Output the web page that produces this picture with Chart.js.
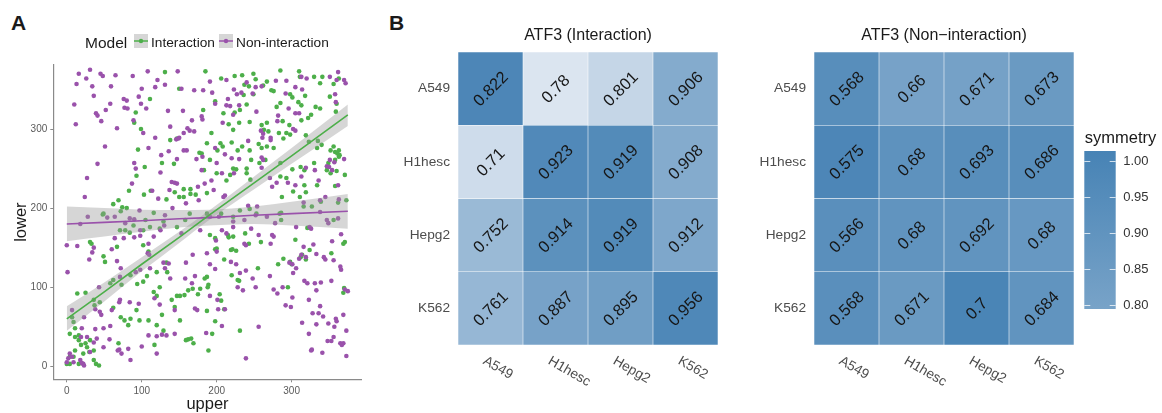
<!DOCTYPE html>
<html>
<head>
<meta charset="utf-8">
<script src="https://cdn.jsdelivr.net/npm/chart.js@4/dist/chart.umd.min.js"></script>
<style>
  html, body { margin: 0; padding: 0; background: #fff; }
  body { width: 1162px; height: 413px; position: relative; overflow: hidden; font-family: "Liberation Sans", Arial, sans-serif; }
  canvas { position: absolute; top: 0; }
  .tag { position: absolute; font-weight: bold; font-size: 21px; line-height: 21px; color: #1a1a1a; }
</style>
</head>
<body>
<div class="tag" style="left:11px; top:12px;">A</div>
<div class="tag" style="left:389px; top:12px;">B</div>
<canvas id="scatter" width="390" height="413" style="left:0;"></canvas>
<canvas id="heatInt" width="350" height="413" style="left:390px;"></canvas>
<canvas id="heatNon" width="422" height="413" style="left:740px;"></canvas>
<script>
// ---------- Panel A: upper vs lower positions ----------
const interactionPoints = [
  [131,372],[185,373],[150,351],[206,364],[224,367],[234,368],[249,370],[252,363],[267,360],[285,374],[310,373],[330,366],[273,349],[276,348],[356,357],[351,341],[198,335],
  [311,366],[341,366],[338,358],[262,355],[237,356],[243,354],[236,343],[249,344],[240,331],[231,324],[224,321],[182,324],[209,320],[298,344],[301,340],[309,334],[313,330],[318,342],[363,364],[360,332],[359,322],[332,328],[338,326],[285,333],[280,328],[288,310],[297,305],[313,311],[326,318],[322,314],[293,295],[283,295],[260,305],[263,299],[269,297],[267,308],[244,309],[230,308],[222,299],[216,306],[193,295],[187,282],[205,282],[208,278],[220,283],[228,273],[234,278],[244,273],[256,281],[260,276],[267,278],[276,276],[289,288],[298,293],[319,292],[323,284],[335,285],[334,276],[340,280],[356,278],[352,273],[358,271],[363,273],[361,269],[364,267],[363,265],[358,261],[349,257],[347,248],[352,244],[330,257],[317,248],[312,252],[301,249],[285,257],[265,261],[257,257],[246,261],[240,250],[240,244],[245,236],[226,249],[222,250],[218,242],[213,235],[200,244],[201,273],[191,261],[180,269],[183,248],[187,219],[285,240],[293,238],[317,229],[334,229],[358,228],[360,247],[371,242],[319,220],[302,221],[287,214],[311,214],[327,202],[362,207],[222,189],[286,194],
  [111,338],[92,321],[99,300],[90,308],[138,286],[147,288],[95,274],[104,252],[127,257],[143,256],[177,270],[93,241],[83,222],[103,217],[112,222],[133,211],[144,220],[150,214],[156,224],[156,214],[165,224],[165,218],[172,217],[62,205],[69,210],[74,201],[80,200],[48,192],[116,194],
  [49,193],[72,196],[78,172],[84,169],[102,172],[105,185],[129,183],[147,176],[158,185],[164,193],[187,193],[206,193],[231,197],[244,199],[253,193],[284,193],[286,185],[316,202],[339,208],[356,185],[373,210],
  [31,157],[33,155],[71,172],[124,174],[111,176],[89,178],[67,151],[102,153],[109,145],[133,131],[134,119],[120,119],[124,100],[116,94],[120,89],[102,107],[107,114],[85,115],[94,104],[73,103],[62,109],[58,105],[49,139],[51,132],[25,93],[14,92],[44,81],[37,77],[36,84],[62,74],[72,62],[77,58],[85,60],[82,52],[93,71],[97,58],[109,58],[120,52],[127,65],[129,45],[140,84],[147,89],[151,89],[144,75],[151,58],[157,90],[162,96],[168,98],[175,91],[159,33],[162,34],[166,35],[169,29],[7,62],[9,56],[11,48],[4,41],[11,37],[16,39],[16,33],[19,27],[25,29],[27,24],[31,33],[30,18],[36,20],[22,16],[11,20],[9,12],[4,12],[4,3],[0,3],[16,3],[36,8],[39,3],[43,1],[69,29],[117,27],
  [191,166],[198,162],[198,148],[200,149],[215,166],[216,163],[222,164],[238,168],[243,155],[259,157],[219,147],[221,148],[226,146],[210,135],[187,113],[184,111],[189,103],[188,100],[178,98],[204,91],[206,83],[210,72],[187,70],[198,57],[194,41],[189,20],[220,115],[228,109],[230,108],[255,124],[231,45],[282,129],[289,136],[298,132],[300,129],[305,160],[314,141],[312,138],[319,135],[324,147],[353,143],[371,157],[295,100],[370,99],[369,93],[321,175],[369,155]
];

const nonInteractionPoints = [
  [16,370],[31,375],[45,370],[48,367],[65,368],[88,367],[108,373],[13,357],[26,364],[34,354],[59,354],[100,351],[121,362],[118,353],[131,356],[148,373],[10,331],[36,342],[58,332],[76,338],[80,336],[77,327],[81,326],[96,341],[99,332],[106,326],[39,320],[41,317],[46,310],[52,324],[12,306],[67,301],[89,311],[102,295],[109,276],[118,289],[135,323],[138,303],[155,323],[167,311],[170,349],[153,351],[161,301],[164,298],[170,297],[156,295],[149,288],[146,287],[150,289],[51,278],[126,267],[136,272],[147,262],[156,273],[160,273],[173,262],[41,256],[27,238],[90,257],[92,250],[87,231],[125,245],[140,233],[144,232],[147,231],[137,223],[114,222],[122,212],[131,191],[141,200],[159,206],[175,227],[24,214],[28,189],[54,188],[64,189],[97,197],[176,210],
  [191,360],[194,346],[223,350],[227,344],[233,346],[215,338],[213,330],[218,329],[198,332],[180,316],[181,312],[208,308],[222,318],[253,322],[259,298],[262,294],[272,289],[272,286],[242,285],[261,289],[282,317],[281,310],[302,300],[305,298],[310,320],[296,326],[305,320],[358,344],[359,334],[360,362],[372,358],[370,362],[362,372],[213,362],[230,330],[181,265],[198,276],[211,268],[220,263],[230,262],[223,244],[200,257],[207,244],[193,235],[180,248],[184,231],[196,223],[211,216],[209,214],[260,264],[262,261],[260,251],[280,232],[271,238],[274,227],[305,229],[313,240],[319,251],[331,248],[336,235],[347,253],[350,252],[351,261],[357,258],[354,248],[362,229],[370,262],[295,232],[316,207],[338,210],[345,214],[242,203],[254,202],
  [240,359],[252,353],[260,354],[279,361],[293,361],[313,366],[320,364],[351,366],[305,353],[314,350],[292,345],[248,345],[182,349],
  [18,180],[84,187],[90,186],[78,181],[98,172],[98,165],[90,163],[116,164],[125,172],[130,178],[153,168],[178,172],[191,189],[203,189],[207,172],[222,183],[237,185],[252,191],[267,189],[278,181],[306,176],[326,174],[338,195],[347,185],[349,181],[362,187],[363,211],[366,167],
  [0,153],[14,152],[36,150],[34,144],[30,135],[1,119],[64,162],[76,162],[109,155],[60,148],[67,133],[72,124],[71,113],[98,122],[92,119],[108,143],[110,141],[111,124],[129,131],[136,130],[131,124],[159,131],[168,141],[158,111],[167,105],[171,114],[138,111],[43,100],[44,69],[46,65],[71,84],[70,81],[84,81],[96,79],[117,86],[124,78],[144,71],[171,73],[174,71],[7,71],[23,62],[38,72],[60,71],[20,48],[38,47],[49,48],[58,51],[19,37],[27,37],[40,35],[36,30],[57,34],[49,24],[70,21],[82,22],[100,25],[109,39],[120,38],[133,39],[144,41],[120,16],[85,8],[4,16],[7,12],[2,10],[9,5],[22,3],[18,8],[0,5],[20,4],[23,1],[31,18],[68,20],[73,16],[127,40],[186,42],[239,10],
  [187,143],[199,159],[200,145],[213,168],[222,176],[237,155],[239,153],[246,174],[256,166],[272,155],[274,166],[276,164],[219,132],[226,129],[231,118],[239,121],[248,111],[252,100],[228,100],[235,96],[191,129],[198,123],[191,89],[201,84],[202,72],[211,72],[207,51],[256,50],[271,114],[276,97],[281,92],[288,100],[297,131],[301,129],[302,118],[306,124],[310,136],[313,141],[319,138],[329,154],[324,176],[316,151],[333,142],[343,138],[345,135],[354,158],[356,134],[365,126],[366,122],[317,108],[321,105],[331,105],[339,106],[353,108],[333,96],[323,84],[338,76],[292,77],[299,75],[301,87],[314,55],[328,67],[336,67],[342,63],[333,53],[349,54],[359,60],[360,57],[369,65],[357,50],[373,45],[323,41],[348,32],[353,32],[356,37],[365,29],[369,29],[367,27],[327,21],[341,17],[373,13],[375,95],[371,97],[326,20]
];

// linear fits with their 95% bands, sampled along "upper"
const fitUpper = [0, 50, 100, 150, 190, 250, 300, 375];
const interactionFit   = [60, 94, 129, 163, 191, 232, 266, 318];
const interactionHigh  = [76, 106, 138, 170, 197, 240, 276, 331];
const interactionLow   = [45, 82, 120, 156, 185, 224, 256, 304];
const nonInteractionFit  = [180, 182, 184, 186.5, 188, 191, 193, 196];
const nonInteractionHigh = [202, 200, 198, 197.5, 198, 202, 208, 218];
const nonInteractionLow  = [158, 164, 170, 175.5, 178, 180, 178, 174];

const upperTicks = [0, 100, 200, 300];
const lowerTicks = [0, 100, 200, 300];
const modelNames = ['Interaction', 'Non-interaction'];

// ---------- Panel B: ATF3 cell-line matrices ----------
const cellLines = ['A549', 'H1hesc', 'Hepg2', 'K562'];
const interactionValues = [
  [0.822, 0.78, 0.801, 0.906],
  [0.71, 0.923, 0.919, 0.908],
  [0.752, 0.914, 0.919, 0.912],
  [0.761, 0.887, 0.895, 0.956]
];
const interactionSymmetry = [
  [0.99, 0.35, 0.45, 0.74],
  [0.41, 0.97, 0.96, 0.74],
  [0.64, 0.92, 0.96, 0.77],
  [0.66, 0.80, 0.83, 0.98]
];
const nonInteractionValues = [
  [0.568, 0.66, 0.671, 0.673],
  [0.575, 0.68, 0.693, 0.686],
  [0.566, 0.68, 0.692, 0.68],
  [0.568, 0.671, 0.7, 0.684]
];
const nonInteractionSymmetry = [
  [0.94, 0.80, 0.81, 0.86],
  [0.99, 0.91, 0.94, 0.94],
  [0.93, 0.90, 0.90, 0.87],
  [0.93, 0.86, 1.00, 0.90]
];
const symmetryTicks = [0.80, 0.85, 0.90, 0.95, 1.00];
const symmetryKeyRange = [0.7945, 1.0134];

// ---------- shared styling ----------
const FONT = '"Liberation Sans", Arial, sans-serif';
Chart.defaults.font.family = FONT;
const GREEN = '#4daf4a';
const PURPLE = '#9a52ab';
const BAND = 'rgba(153,153,153,0.4)';
const fillLow = [230, 236, 245], fillHigh = [70, 130, 180], fillDomain = [0.3, 1.02];

function fillFor(v) {
  const t = Math.max(0, Math.min(1, (v - fillDomain[0]) / (fillDomain[1] - fillDomain[0])));
  const c = fillLow.map((lo, i) => Math.round(lo + (fillHigh[i] - lo) * t));
  return `rgb(${c[0]},${c[1]},${c[2]})`;
}
const xy = pts => pts.map(([x, y]) => ({ x, y }));
const along = ys => fitUpper.map((x, i) => ({ x, y: ys[i] }));

// ---------- scatter with fits ----------
const modelKey = {
  id: 'modelKey',
  afterDraw(chart) {
    const ctx = chart.ctx;
    ctx.save();
    ctx.fillStyle = '#1a1a1a';
    ctx.textBaseline = 'alphabetic';
    ctx.font = `15.5px ${FONT}`;
    ctx.fillText('Model', 85, 47.5);
    const keys = [
      { x: 134, color: GREEN, text: modelNames[0], tx: 151 },
      { x: 219, color: PURPLE, text: modelNames[1], tx: 236 }
    ];
    keys.forEach(k => {
      ctx.fillStyle = BAND;
      ctx.fillRect(k.x, 34, 14, 14);
      ctx.strokeStyle = k.color;
      ctx.lineWidth = 1.5;
      ctx.beginPath(); ctx.moveTo(k.x, 41); ctx.lineTo(k.x + 14, 41); ctx.stroke();
      ctx.fillStyle = k.color;
      ctx.beginPath(); ctx.arc(k.x + 7, 41, 2.2, 0, Math.PI * 2); ctx.fill();
      ctx.fillStyle = '#1a1a1a';
      ctx.font = `13.7px ${FONT}`;
      ctx.fillText(k.text, k.tx, 46.5);
    });
    ctx.restore();
  }
};

const bandStyle = { type: 'line', pointRadius: 0, borderWidth: 0, backgroundColor: BAND, cubicInterpolationMode: 'monotone', order: 3 };

new Chart(document.getElementById('scatter'), {
  type: 'scatter',
  data: {
    datasets: [
      { label: modelNames[0], data: xy(interactionPoints), backgroundColor: GREEN, pointRadius: 2.3, borderWidth: 0, order: 5 },
      { label: modelNames[1], data: xy(nonInteractionPoints), backgroundColor: PURPLE, pointRadius: 2.3, borderWidth: 0, order: 4 },
      Object.assign({ data: along(interactionHigh), fill: '+1' }, bandStyle),
      Object.assign({ data: along(interactionLow), fill: false }, bandStyle),
      Object.assign({ data: along(nonInteractionHigh), fill: '+1' }, bandStyle),
      Object.assign({ data: along(nonInteractionLow), fill: false }, bandStyle),
      { type: 'line', data: along(interactionFit), borderColor: GREEN, borderWidth: 1.6, pointRadius: 0, fill: false, order: 1 },
      { type: 'line', data: along(nonInteractionFit), borderColor: PURPLE, borderWidth: 1.6, pointRadius: 0, fill: false, order: 1 }
    ]
  },
  options: {
    responsive: false,
    animation: false,
    layout: { padding: { top: 65, right: 28.3, left: 0, bottom: 0 } },
    plugins: { legend: { display: false }, tooltip: { enabled: false } },
    scales: {
      x: {
        type: 'linear', min: -18, max: 393.5,
        afterBuildTicks: s => { s.ticks = upperTicks.map(v => ({ value: v })); },
        afterFit: s => { s.height = 33.7; },
        grid: { drawOnChartArea: false, drawTicks: true, tickLength: 3, color: '#8a8a8a' },
        border: { display: true, color: '#8a8a8a', width: 1.2 },
        ticks: { color: '#5a5a5a', font: { size: 10 }, padding: 3, maxRotation: 0 },
        title: { display: true, text: 'upper', color: '#1a1a1a', font: { size: 16.5, lineHeight: 1 }, padding: { top: 0, bottom: 0 } }
      },
      y: {
        type: 'linear', min: -16.5, max: 381,
        afterBuildTicks: s => { s.ticks = lowerTicks.map(v => ({ value: v })); },
        afterFit: s => { s.width = 53.3; },
        grid: { drawOnChartArea: false, drawTicks: true, tickLength: 3, color: '#8a8a8a' },
        border: { display: true, color: '#8a8a8a', width: 1.2 },
        ticks: { color: '#5a5a5a', font: { size: 10 }, padding: 3 },
        title: { display: true, text: 'lower', color: '#1a1a1a', font: { size: 16.5, lineHeight: 1 }, padding: { top: 13, bottom: 0 } }
      }
    }
  },
  plugins: [modelKey]
});

// ---------- heatmaps ----------
function heatDecor(title, values, withKey) {
  return {
    id: 'heatDecor',
    afterDatasetsDraw(chart) {
      const { ctx, chartArea: a, scales: { x, y } } = chart;
      ctx.save();
      // cell values, tilted
      ctx.fillStyle = '#161616';
      ctx.font = `16.5px ${FONT}`;
      ctx.textAlign = 'center';
      ctx.textBaseline = 'middle';
      chart.data.datasets.forEach((ds, r) => {
        chart.getDatasetMeta(r).data.forEach((bar, c) => {
          ctx.save();
          ctx.translate(bar.x, (bar.y + bar.base) / 2);
          ctx.rotate(-Math.PI / 4);
          ctx.fillText(String(values[r][c]), 0, 1);
          ctx.restore();
        });
      });
      // row names
      ctx.fillStyle = '#4d4d4d';
      ctx.font = `13.7px ${FONT}`;
      ctx.textAlign = 'right';
      cellLines.forEach((name, r) => ctx.fillText(name, a.left - 8, y.getPixelForValue(r + 0.5)));
      // column names, slanted
      ctx.textAlign = 'left';
      ctx.textBaseline = 'top';
      cellLines.forEach((name, c) => {
        ctx.save();
        ctx.translate(x.getPixelForValue(c) - 3, a.bottom + 9);
        ctx.rotate(Math.PI / 6);
        ctx.fillText(name, 0, 0);
        ctx.restore();
      });
      // title
      ctx.fillStyle = '#1a1a1a';
      ctx.font = `16px ${FONT}`;
      ctx.textAlign = 'center';
      ctx.textBaseline = 'middle';
      ctx.fillText(title, (a.left + a.right) / 2, 36);

      if (withKey) {
        const kx = a.right + 10.3, kw = 31.4, kTop = 151, kBottom = 309;
        const toY = v => kBottom - (v - symmetryKeyRange[0]) / (symmetryKeyRange[1] - symmetryKeyRange[0]) * (kBottom - kTop);
        const g = ctx.createLinearGradient(0, kBottom, 0, kTop);
        g.addColorStop(0, fillFor(symmetryKeyRange[0]));
        g.addColorStop(1, fillFor(symmetryKeyRange[1]));
        ctx.fillStyle = g;
        ctx.fillRect(kx, kTop, kw, kBottom - kTop);
        ctx.strokeStyle = 'rgba(255,255,255,0.75)';
        ctx.lineWidth = 1;
        ctx.fillStyle = '#333';
        ctx.font = `13px ${FONT}`;
        ctx.textAlign = 'left';
        ctx.textBaseline = 'middle';
        symmetryTicks.forEach(v => {
          const ty = Math.round(toY(v)) + 0.5;
          ctx.beginPath();
          ctx.moveTo(kx, ty); ctx.lineTo(kx + 6, ty);
          ctx.moveTo(kx + kw - 6, ty); ctx.lineTo(kx + kw, ty);
          ctx.stroke();
          ctx.fillText(v.toFixed(2), kx + kw + 7.5, toY(v) + 0.5);
        });
        ctx.fillStyle = '#1a1a1a';
        ctx.font = `16.5px ${FONT}`;
        ctx.textBaseline = 'alphabetic';
        ctx.fillText('symmetry', kx + 0.5, 143);
      }
      ctx.restore();
    }
  };
}

function heatmap(canvasId, title, values, symmetry, padLeft, padRight, withKey) {
  return new Chart(document.getElementById(canvasId), {
    type: 'bar',
    data: {
      labels: cellLines,
      datasets: cellLines.map((rowName, r) => ({
        label: rowName,
        data: cellLines.map(() => [r, r + 1]),
        backgroundColor: symmetry[r].map(fillFor),
        borderColor: 'rgba(255,255,255,0.12)',
        borderWidth: 0.6,
        borderSkipped: false,
        grouped: false,
        barPercentage: 1,
        categoryPercentage: 1
      }))
    },
    options: {
      responsive: false,
      animation: false,
      layout: { padding: { left: padLeft, right: padRight, top: 52, bottom: 68 } },
      plugins: { legend: { display: false }, tooltip: { enabled: false } },
      scales: {
        x: { type: 'category', display: false },
        y: { type: 'linear', min: 0, max: 4, reverse: true, display: false }
      }
    },
    plugins: [heatDecor(title, values, withKey)]
  });
}

heatmap('heatInt', 'ATF3 (Interaction)', interactionValues, interactionSymmetry, 68, 22, false);
heatmap('heatNon', 'ATF3 (Non\u2212interaction)', nonInteractionValues, nonInteractionSymmetry, 74, 88, true);
</script>
</body>
</html>
